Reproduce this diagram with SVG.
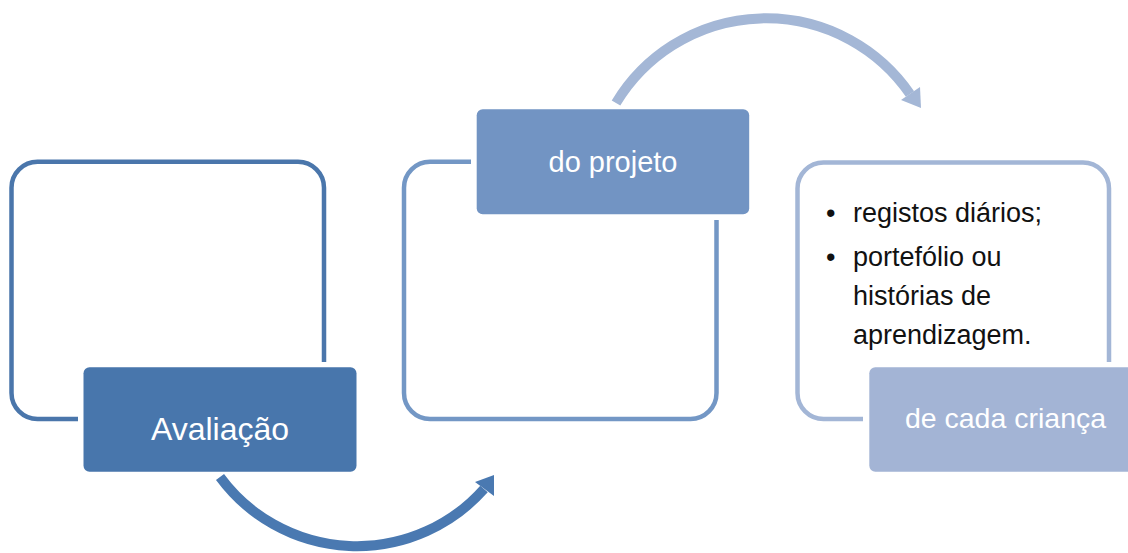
<svg xmlns="http://www.w3.org/2000/svg" width="1128" height="553" viewBox="0 0 1128 553">
<style>
  .frame { fill: none; stroke-width: 4.5; }
  .lbl { font-family: "Liberation Sans", Arial, sans-serif; fill: #ffffff; text-anchor: middle; }
  .body { font-family: "Liberation Sans", Arial, sans-serif; fill: #111111; font-size: 27px; }
  .arc { fill: none; stroke-width: 10; stroke-linecap: butt; }
</style>
<rect width="1128" height="553" fill="#ffffff"/>
<g id="connectors">
  <path class="arc" stroke="#4a79b1" d="M220,477 A170,170 0 0 0 484,489"/>
  <polygon fill="#4a79b1" points="494,475 475,482 494,496"/>
  <path class="arc" stroke="#a4b7d6" d="M616,103 A175,175 0 0 1 910,94"/>
  <polygon fill="#a4b7d6" points="921,108 901,100 920,87"/>
</g>
<g id="node-avaliacao">
  <path class="frame" stroke="#4a76ab" d="M78,419 H37.5 A26,26 0 0 1 11.5,393 V187.7 A26,26 0 0 1 37.5,161.7 H298 A26,26 0 0 1 324,187.7 V362"/>
  <rect x="83.5" y="367.3" width="273" height="104.5" rx="6" fill="#4876ac"/>
  <text class="lbl" x="220" y="440" font-size="32">Avaliação</text>
</g>
<g id="node-projeto">
  <path class="frame" stroke="#7397c5" d="M471,161.7 H430 A26,26 0 0 0 404,187.7 V393 A26,26 0 0 0 430,419 H690.5 A26,26 0 0 0 716.5,393 V220"/>
  <rect x="476.7" y="109.3" width="272.5" height="105" rx="6" fill="#7294c3"/>
  <text class="lbl" x="613" y="172" font-size="29">do projeto</text>
</g>
<g id="node-crianca">
  <path class="frame" stroke="#a3b6d6" d="M863,419 H823.5 A26,26 0 0 1 797.5,393 V188.5 A26,26 0 0 1 823.5,162.5 H1083 A26,26 0 0 1 1109,188.5 V362"/>
  <rect x="869.3" y="367.3" width="273" height="104.5" rx="6" fill="#a3b4d5"/>
  <text class="lbl" x="1005.5" y="428" font-size="28.5">de cada criança</text>
  <text class="body">
    <tspan x="826" y="222">•</tspan><tspan x="853" y="222">registos diários;</tspan>
    <tspan x="826" y="266">•</tspan><tspan x="853" y="266">portefólio ou</tspan>
    <tspan x="853" y="305">histórias de</tspan>
    <tspan x="853" y="344">aprendizagem.</tspan>
  </text>
</g>
</svg>
